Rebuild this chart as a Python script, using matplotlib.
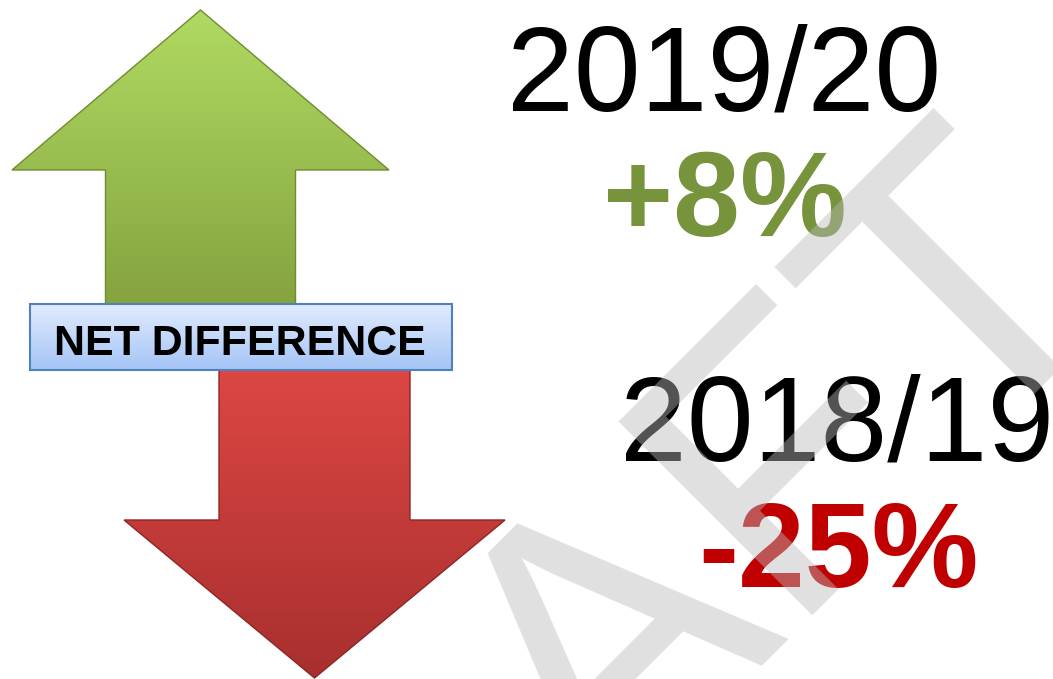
import numpy as np
import matplotlib
matplotlib.use("Agg")
from matplotlib import pyplot as plt
from matplotlib.patches import Polygon, Rectangle
from matplotlib.colors import LinearSegmentedColormap

# ---- data ----
periods = ["2019/20", "2018/19"]
changes = [8, -25]            # net difference, %
change_colors = ["#77933c", "#c00000"]
box_label = "NET DIFFERENCE"
watermark = "DRAFT"

W, H = 1053, 679
plt.rcParams['font.family'] = ['Liberation Sans', 'DejaVu Sans']

fig = plt.figure(figsize=(W / 100, H / 100), dpi=100)
ax = fig.add_axes([0, 0, 1, 1])


def arrow_poly(cx, tip_y, base_y, end_y, head_w, shaft_w):
    return [(cx, tip_y), (cx + head_w / 2, base_y), (cx + shaft_w / 2, base_y),
            (cx + shaft_w / 2, end_y), (cx - shaft_w / 2, end_y),
            (cx - shaft_w / 2, base_y), (cx - head_w / 2, base_y)]


def gradient_patch(verts, top_col, bot_col, edge, z):
    xs = [v[0] for v in verts]
    ys = [v[1] for v in verts]
    cmap = LinearSegmentedColormap.from_list("g", [top_col, bot_col])
    grad = np.linspace(0, 1, 256).reshape(-1, 1)
    im = ax.imshow(grad, cmap=cmap, aspect='auto', origin='upper',
                   extent=(min(xs), max(xs), max(ys), min(ys)), zorder=z)
    poly = Polygon(verts, closed=True, facecolor='none', edgecolor=edge,
                   linewidth=1.0, zorder=z + 0.1)
    ax.add_patch(poly)
    im.set_clip_path(poly)


# arrows: up for the positive change, down for the negative one
up = arrow_poly(200.5, 10, 170, 310, 377, 190)
down = arrow_poly(314.5, 678, 520, 365, 381, 191)
gradient_patch(up, "#b0da62", "#84a23e", "#6f8d30", 1)
gradient_patch(down, "#dd4743", "#a82f2f", "#8e2626", 1)

# label box
box = Rectangle((30, 304), 422, 66, facecolor='none', edgecolor="#4f81bd",
                linewidth=1.5, zorder=3.1)
ax.add_patch(box)
bcmap = LinearSegmentedColormap.from_list("b", ["#e2ecfd", "#a4c4f6"])
bim = ax.imshow(np.linspace(0, 1, 256).reshape(-1, 1), cmap=bcmap, aspect='auto',
                origin='upper', extent=(30, 452, 370, 304), zorder=3)
bim.set_clip_path(box)
ax.text(240, 355, box_label, fontsize=30.9, fontweight='bold', color='black',
        ha='center', va='baseline', zorder=4)

# period labels and percentages
period_pos = [(724, 111), (837, 461)]
change_pos = [(725, 236), (838, 587)]
for p, c, col, (px, py), (cx, cy) in zip(periods, changes, change_colors,
                                           period_pos, change_pos):
    ax.text(px, py, p, fontsize=86.5, color='black', ha='center', va='baseline', zorder=5)
    ax.text(cx, cy, f"{c:+d}%", fontsize=86.5, fontweight='bold', color=col,
            ha='center', va='baseline', zorder=5)

# watermark over everything
ax.text(655, 740, watermark, fontsize=286.6, color=(0.73, 0.73, 0.73), alpha=0.45,
        rotation=45, rotation_mode='anchor', ha='center', va='baseline', zorder=10)

ax.set_xlim(0, W)
ax.set_ylim(H, 0)
ax.axis('off')
fig.savefig("out.png", dpi=100)
